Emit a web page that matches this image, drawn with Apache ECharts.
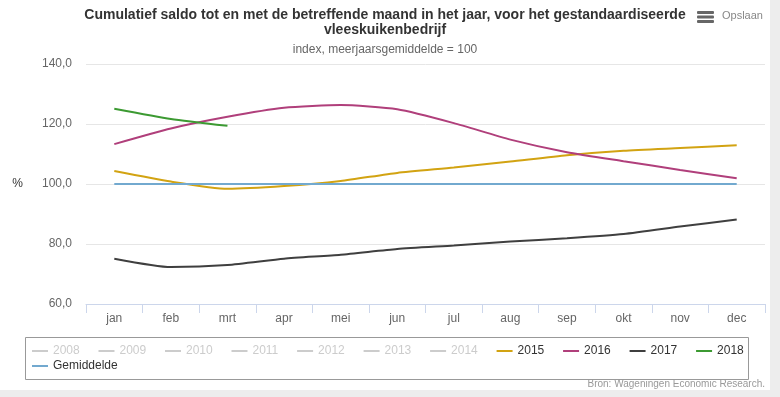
<!DOCTYPE html>
<html>
<head>
<meta charset="utf-8">
<script src="https://cdn.jsdelivr.net/npm/echarts@6/dist/echarts.min.js"></script>
<style>
  html, body { margin:0; padding:0; background:#ededed; }
  #main { width:770px; height:390px; background:#fff; }
</style>
</head>
<body>
<div id="main"></div>
<script>
// maanden en waarden (index, meerjaarsgemiddelde = 100)
var months = ['jan','feb','mrt','apr','mei','jun','jul','aug','sep','okt','nov','dec'];
var data2015 = [104.3, 100.8, 98.4, 99.3, 101.0, 103.7, 105.5, 107.5, 109.6, 111.1, 112.0, 112.9];
var data2016 = [113.3, 118.5, 122.4, 125.4, 126.3, 124.9, 120.3, 114.8, 110.6, 107.6, 104.7, 101.9];
var data2017 = [75.1, 72.3, 73.0, 75.1, 76.4, 78.3, 79.5, 80.8, 81.9, 83.3, 85.8, 88.2];
var data2018 = [125.1, 121.7, 119.4];
var dataGem = [100, 100, 100, 100, 100, 100, 100, 100, 100, 100, 100, 100];
// jaren zonder getoonde lijn (in legenda uitgeschakeld)
var hiddenYears = ['2008','2009','2010','2011','2012','2013','2014'];
var yTicks = { min: 60, max: 140, interval: 20 };

var myChart = echarts.init(document.getElementById('main'));
var fontFam = '"Liberation Sans", Arial, sans-serif';

var series = [];
var selected = {};
hiddenYears.forEach(function (y) {
  selected[y] = false;
  series.push({ name: y, type: 'line', data: [], itemStyle: { color: '#cccccc' } });
});
function addLine(name, data, color) {
  series.push({
    name: name,
    type: 'line',
    data: data,
    smooth: 0.2,
    symbol: 'none',
    lineStyle: { width: 2, color: color },
    itemStyle: { color: color },
    z: 3
  });
}
addLine('2015', data2015, '#d2a312');
addLine('2016', data2016, '#b03f7b');
addLine('2017', data2017, '#3f3f3f');
addLine('2018', data2018, '#3c9a32');
addLine('Gemiddelde', dataGem, '#72a9cf');

var yearNames = hiddenYears.concat(['2015','2016','2017','2018']);

var option = {
  animation: false,
  textStyle: { fontFamily: fontFam },
  title: {
    text: 'Cumulatief saldo tot en met de betreffende maand in het jaar, voor het gestandaardiseerde\nvleeskuikenbedrijf',
    subtext: 'index, meerjaarsgemiddelde = 100',
    left: 'center',
    top: 3,
    itemGap: 6,
    textStyle: { fontSize: 14, fontWeight: 'bold', color: '#333', lineHeight: 15, fontFamily: fontFam },
    subtextStyle: { fontSize: 12, color: '#666', fontFamily: fontFam }
  },
  grid: { left: 86, right: 5, top: 64, bottom: 86 },
  legend: [{
    data: yearNames,
    selected: selected,
    left: 32,
    top: 345,
    padding: 0,
    itemWidth: 16,
    itemHeight: 2,
    itemGap: 18.8,
    icon: 'rect',
    inactiveColor: '#cccccc',
    textStyle: { fontSize: 12, color: '#333', fontFamily: fontFam }
  }, {
    data: ['Gemiddelde'],
    left: 32,
    top: 360,
    padding: 0,
    itemWidth: 16,
    itemHeight: 2,
    icon: 'rect',
    textStyle: { fontSize: 12, color: '#333', fontFamily: fontFam }
  }],
  xAxis: {
    type: 'category',
    data: months,
    boundaryGap: true,
    axisLine: { lineStyle: { color: '#ccd6eb' } },
    axisTick: { show: true, length: 9, lineStyle: { color: '#ccd6eb' } },
    axisLabel: { color: '#666', fontSize: 12, margin: 9 }
  },
  yAxis: {
    type: 'value',
    min: yTicks.min,
    max: yTicks.max,
    interval: yTicks.interval,
    name: '%',
    nameLocation: 'middle',
    nameRotate: 0,
    nameGap: 63,
    nameTextStyle: { color: '#333', fontSize: 12 },
    axisLine: { show: false },
    axisTick: { show: false },
    axisLabel: {
      color: '#666',
      fontSize: 12,
      margin: 14,
      formatter: function (v) { return v.toFixed(1).replace('.', ','); }
    },
    splitLine: { lineStyle: { color: '#e6e6e6' } }
  },
  graphic: [
    // kader om de legenda
    { type: 'rect', shape: { x: 25.5, y: 337.5, width: 723, height: 42 },
      style: { fill: 'none', stroke: '#999', lineWidth: 1 }, silent: true },
    // menu-knop
    { type: 'rect', shape: { x: 697, y: 11, width: 17, height: 3, r: 1 }, style: { fill: '#666' } },
    { type: 'rect', shape: { x: 697, y: 15.5, width: 17, height: 3, r: 1 }, style: { fill: '#666' } },
    { type: 'rect', shape: { x: 697, y: 20, width: 17, height: 3, r: 1 }, style: { fill: '#666' } },
    { type: 'text', left: 722, top: 10,
      style: { text: 'Opslaan', fill: '#888', fontSize: 11, fontFamily: fontFam } },
    // bron
    { type: 'text', right: 5, top: 379,
      style: { text: 'Bron: Wageningen Economic Research.', fill: '#999', fontSize: 10, fontFamily: fontFam, align: 'right' } }
  ],
  series: series
};
myChart.setOption(option);
</script>
</body>
</html>
